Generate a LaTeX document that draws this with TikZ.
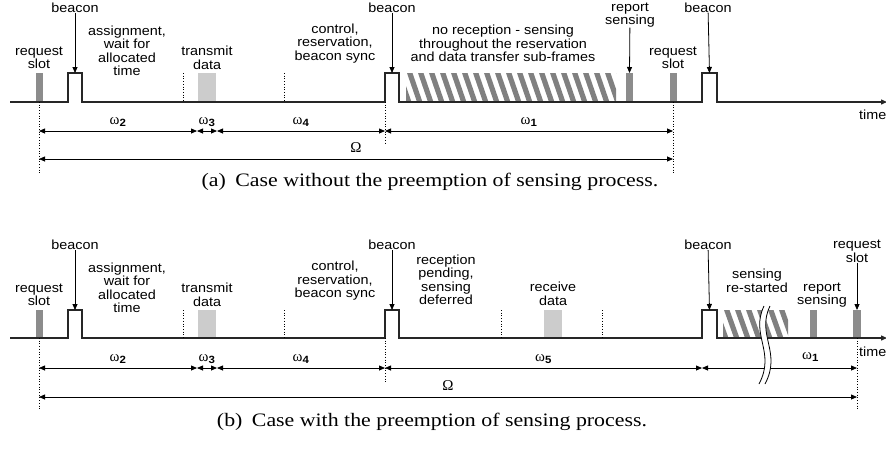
\documentclass[tikz,border=0pt]{standalone}
\usepackage{fontspec}
\setmainfont{Liberation Serif}
\setsansfont[FakeStretch=1.09]{Liberation Sans}
\newfontfamily\capfont[FakeStretch=1.15]{Liberation Serif}
\usetikzlibrary{arrows.meta}

\begin{document}
\begin{tikzpicture}[x=1pt,y=-1pt,
    lbl/.style={font=\sffamily\fontsize{13.2}{13.5}\selectfont,align=center,inner sep=0pt},
    wlbl/.style={font=\fontsize{15}{15}\selectfont,inner sep=0pt},
    captext/.style={font=\capfont\fontsize{19}{19}\selectfont,inner sep=0pt},
    tline/.style={line width=1.3pt,black!85},
    dim/.style={line width=0.8pt,{Triangle[length=6pt,width=5pt]}-{Triangle[length=6pt,width=5pt]}},
    ptr/.style={line width=0.8pt,-{Triangle[length=6pt,width=5pt]}},
    guide/.style={dotted,line width=0.7pt},
    slot/.style={fill=black!45},
    dat/.style={fill=black!20},
    stripe/.style={fill=black!50}]
  \useasboundingbox (0,0) rectangle (886,451);

  % (a) without preemption
  \fill[slot] (36,73) rectangle (43,102);
  \fill[dat] (198,73) rectangle (216,102);
  \fill[slot] (626,73) rectangle (633,102);
  \fill[slot] (670,73) rectangle (677,102);
  \begin{scope}
    \clip (406,73) rectangle (616,102);
    \foreach \x in {396,407,...,620}
      \fill[stripe] (\x,73) -- ++(5.5,0) -- ++(10,29) -- ++(-5.5,0) -- cycle;
  \end{scope}
  \draw[tline,-{Triangle[length=6pt,width=5pt]}] (10,102) -- (68,102) -- (68,73) -- (82,73) -- (82,102)
    -- (385,102) -- (385,73) -- (399,73) -- (399,102)
    -- (702,102) -- (702,73) -- (717,73) -- (717,102) -- (887,102);
  \draw[guide] (183,73) -- (183,102);
  \draw[guide] (284,73) -- (284,102);

  \coordinate (p_a1) at (75,73);
  \coordinate (p_a2) at (392,73);
  \coordinate (p_a3) at (709.5,73);
  \coordinate (r_a) at (629.5,73);
  \node[lbl] (b_a1) at (75,7.5) {beacon};
  \node[lbl] (b_a2) at (392,7.5) {beacon};
  \node[lbl] (b_a3) at (708,7.5) {beacon};
  \node[lbl] (rep_a) at (630,15) {report\\sensing};
  \node[lbl] (req_a1) at (39,58) {request\\slot};
  \node[lbl] (req_a2) at (673,58) {request\\slot};
  \node[lbl] (asg_a) at (127,51) {assignment,\\wait for\\allocated\\time};
  \node[lbl] (tx_a) at (207,58) {transmit\\data};
  \node[lbl] (ctl_a) at (335,43.5) {control,\\reservation,\\beacon sync};
  \node[lbl] (nor_a) at (503,43.5) {no reception - sensing\\throughout the reservation\\and data transfer sub-frames};
  \node[lbl,anchor=west] (time_a) at (859,115) {time};
  \draw[ptr] (b_a1) -- (p_a1);
  \draw[ptr] (b_a2) -- (p_a2);
  \draw[ptr] (b_a3) -- (p_a3);
  \draw[ptr] (rep_a) -- (r_a);

  \draw[guide] (39,102) -- (39,173);
  \draw[guide] (385,102) -- (385,145);
  \draw[guide] (673,102) -- (673,173);
  \coordinate (d_a0) at (39,131);
  \coordinate (d_a1) at (197,131);
  \coordinate (d_a2) at (217,131);
  \coordinate (d_a3) at (385,131);
  \coordinate (d_a4) at (673,131);
  \coordinate (o_a0) at (39,159);
  \coordinate (o_a1) at (673,159);
  \draw[dim] (d_a0) -- node[wlbl,above=4pt] {ω\textsubscript{\sffamily\bfseries 2}} (d_a1);
  \draw[dim] (d_a1) -- node[wlbl,above=4pt] {ω\textsubscript{\sffamily\bfseries 3}} (d_a2);
  \draw[dim] (d_a2) -- node[wlbl,above=4pt] {ω\textsubscript{\sffamily\bfseries 4}} (d_a3);
  \draw[dim] (d_a3) -- node[wlbl,above=4pt] {ω\textsubscript{\sffamily\bfseries 1}} (d_a4);
  \draw[dim] (o_a0) -- node[wlbl,above=6pt] {Ω} (o_a1);
  \node[captext] (cap_a) at (430,182) {(a)\enspace Case without the preemption of sensing process.};

  % (b) with preemption
  \fill[slot] (36,310) rectangle (43,338);
  \fill[dat] (198,310) rectangle (216,338);
  \fill[dat] (544,310) rectangle (562,338);
  \fill[slot] (810,310) rectangle (817,338);
  \fill[slot] (853,310) rectangle (861,338);
  \begin{scope}
    \clip (723,310) rectangle (788,338);
    \foreach \x in {713,724,...,790}
      \fill[stripe] (\x,310) -- ++(5.5,0) -- ++(10,28) -- ++(-5.5,0) -- cycle;
  \end{scope}
  \draw[tline,-{Triangle[length=6pt,width=5pt]}] (10,338) -- (68,338) -- (68,310) -- (82,310) -- (82,338)
    -- (385,338) -- (385,310) -- (399,310) -- (399,338)
    -- (702,338) -- (702,310) -- (717,310) -- (717,338) -- (887,338);
  \draw[guide] (183,310) -- (183,338);
  \draw[guide] (284,310) -- (284,338);
  \draw[guide] (501,310) -- (501,338);
  \draw[guide] (602,310) -- (602,338);

  \coordinate (p_b1) at (75,310);
  \coordinate (p_b2) at (392,310);
  \coordinate (p_b3) at (709.5,310);
  \coordinate (q_b) at (857,310);
  \node[lbl] (b_b1) at (75,245) {beacon};
  \node[lbl] (b_b2) at (392,245) {beacon};
  \node[lbl] (b_b3) at (708,245) {beacon};
  \node[lbl] (req_b1) at (39,295) {request\\slot};
  \node[lbl] (req_b2) at (857,251.5) {request\\slot};
  \node[lbl] (asg_b) at (127,288) {assignment,\\wait for\\allocated\\time};
  \node[lbl] (tx_b) at (207,295) {transmit\\data};
  \node[lbl] (ctl_b) at (335,281) {control,\\reservation,\\beacon sync};
  \node[lbl] (pend_b) at (446,280) {reception\\pending,\\sensing\\deferred};
  \node[lbl] (rx_b) at (553,294) {receive\\data};
  \node[lbl] (rst_b) at (757,281) {sensing\\re-started};
  \node[lbl] (rep_b) at (822,295) {report\\sensing};
  \node[lbl,anchor=west] (time_b) at (859,352) {time};
  \draw[ptr] (b_b1) -- (p_b1);
  \draw[ptr] (b_b2) -- (p_b2);
  \draw[ptr] (b_b3) -- (p_b3);
  \draw[ptr] (req_b2) -- (q_b);

  \draw[guide] (39,338) -- (39,410);
  \draw[guide] (385,338) -- (385,382);
  \draw[guide] (857,338) -- (857,410);
  \coordinate (d_b0) at (39,368);
  \coordinate (d_b1) at (197,368);
  \coordinate (d_b2) at (217,368);
  \coordinate (d_b3) at (385,368);
  \coordinate (d_b4) at (702,368);
  \coordinate (d_b5) at (857,368);
  \coordinate (o_b0) at (39,397);
  \coordinate (o_b1) at (857,397);
  \draw[dim] (d_b0) -- node[wlbl,above=4pt] {ω\textsubscript{\sffamily\bfseries 2}} (d_b1);
  \draw[dim] (d_b1) -- node[wlbl,above=4pt] {ω\textsubscript{\sffamily\bfseries 3}} (d_b2);
  \draw[dim] (d_b2) -- node[wlbl,above=4pt] {ω\textsubscript{\sffamily\bfseries 4}} (d_b3);
  \draw[dim] (d_b3) -- node[wlbl,above=4pt] {ω\textsubscript{\sffamily\bfseries 5}} (d_b4);
  \draw[dim] (d_b4) -- node[wlbl,above=6pt,pos=0.7] {ω\textsubscript{\sffamily\bfseries 1}} (d_b5);
  \draw[dim] (o_b0) -- node[wlbl,above=6pt] {Ω} (o_b1);

  \fill[white] (764,306) .. controls (750,335) and (776,352) .. (759,384)
    -- (765,384) .. controls (782,352) and (756,335) .. (770,306) -- cycle;
  \draw[line width=0.8pt] (764,306) .. controls (750,335) and (776,352) .. (759,384);
  \draw[line width=0.8pt] (770,306) .. controls (756,335) and (782,352) .. (765,384);
  \node[captext] (cap_b) at (432,422) {(b)\enspace Case with the preemption of sensing process.};
\end{tikzpicture}
\end{document}
